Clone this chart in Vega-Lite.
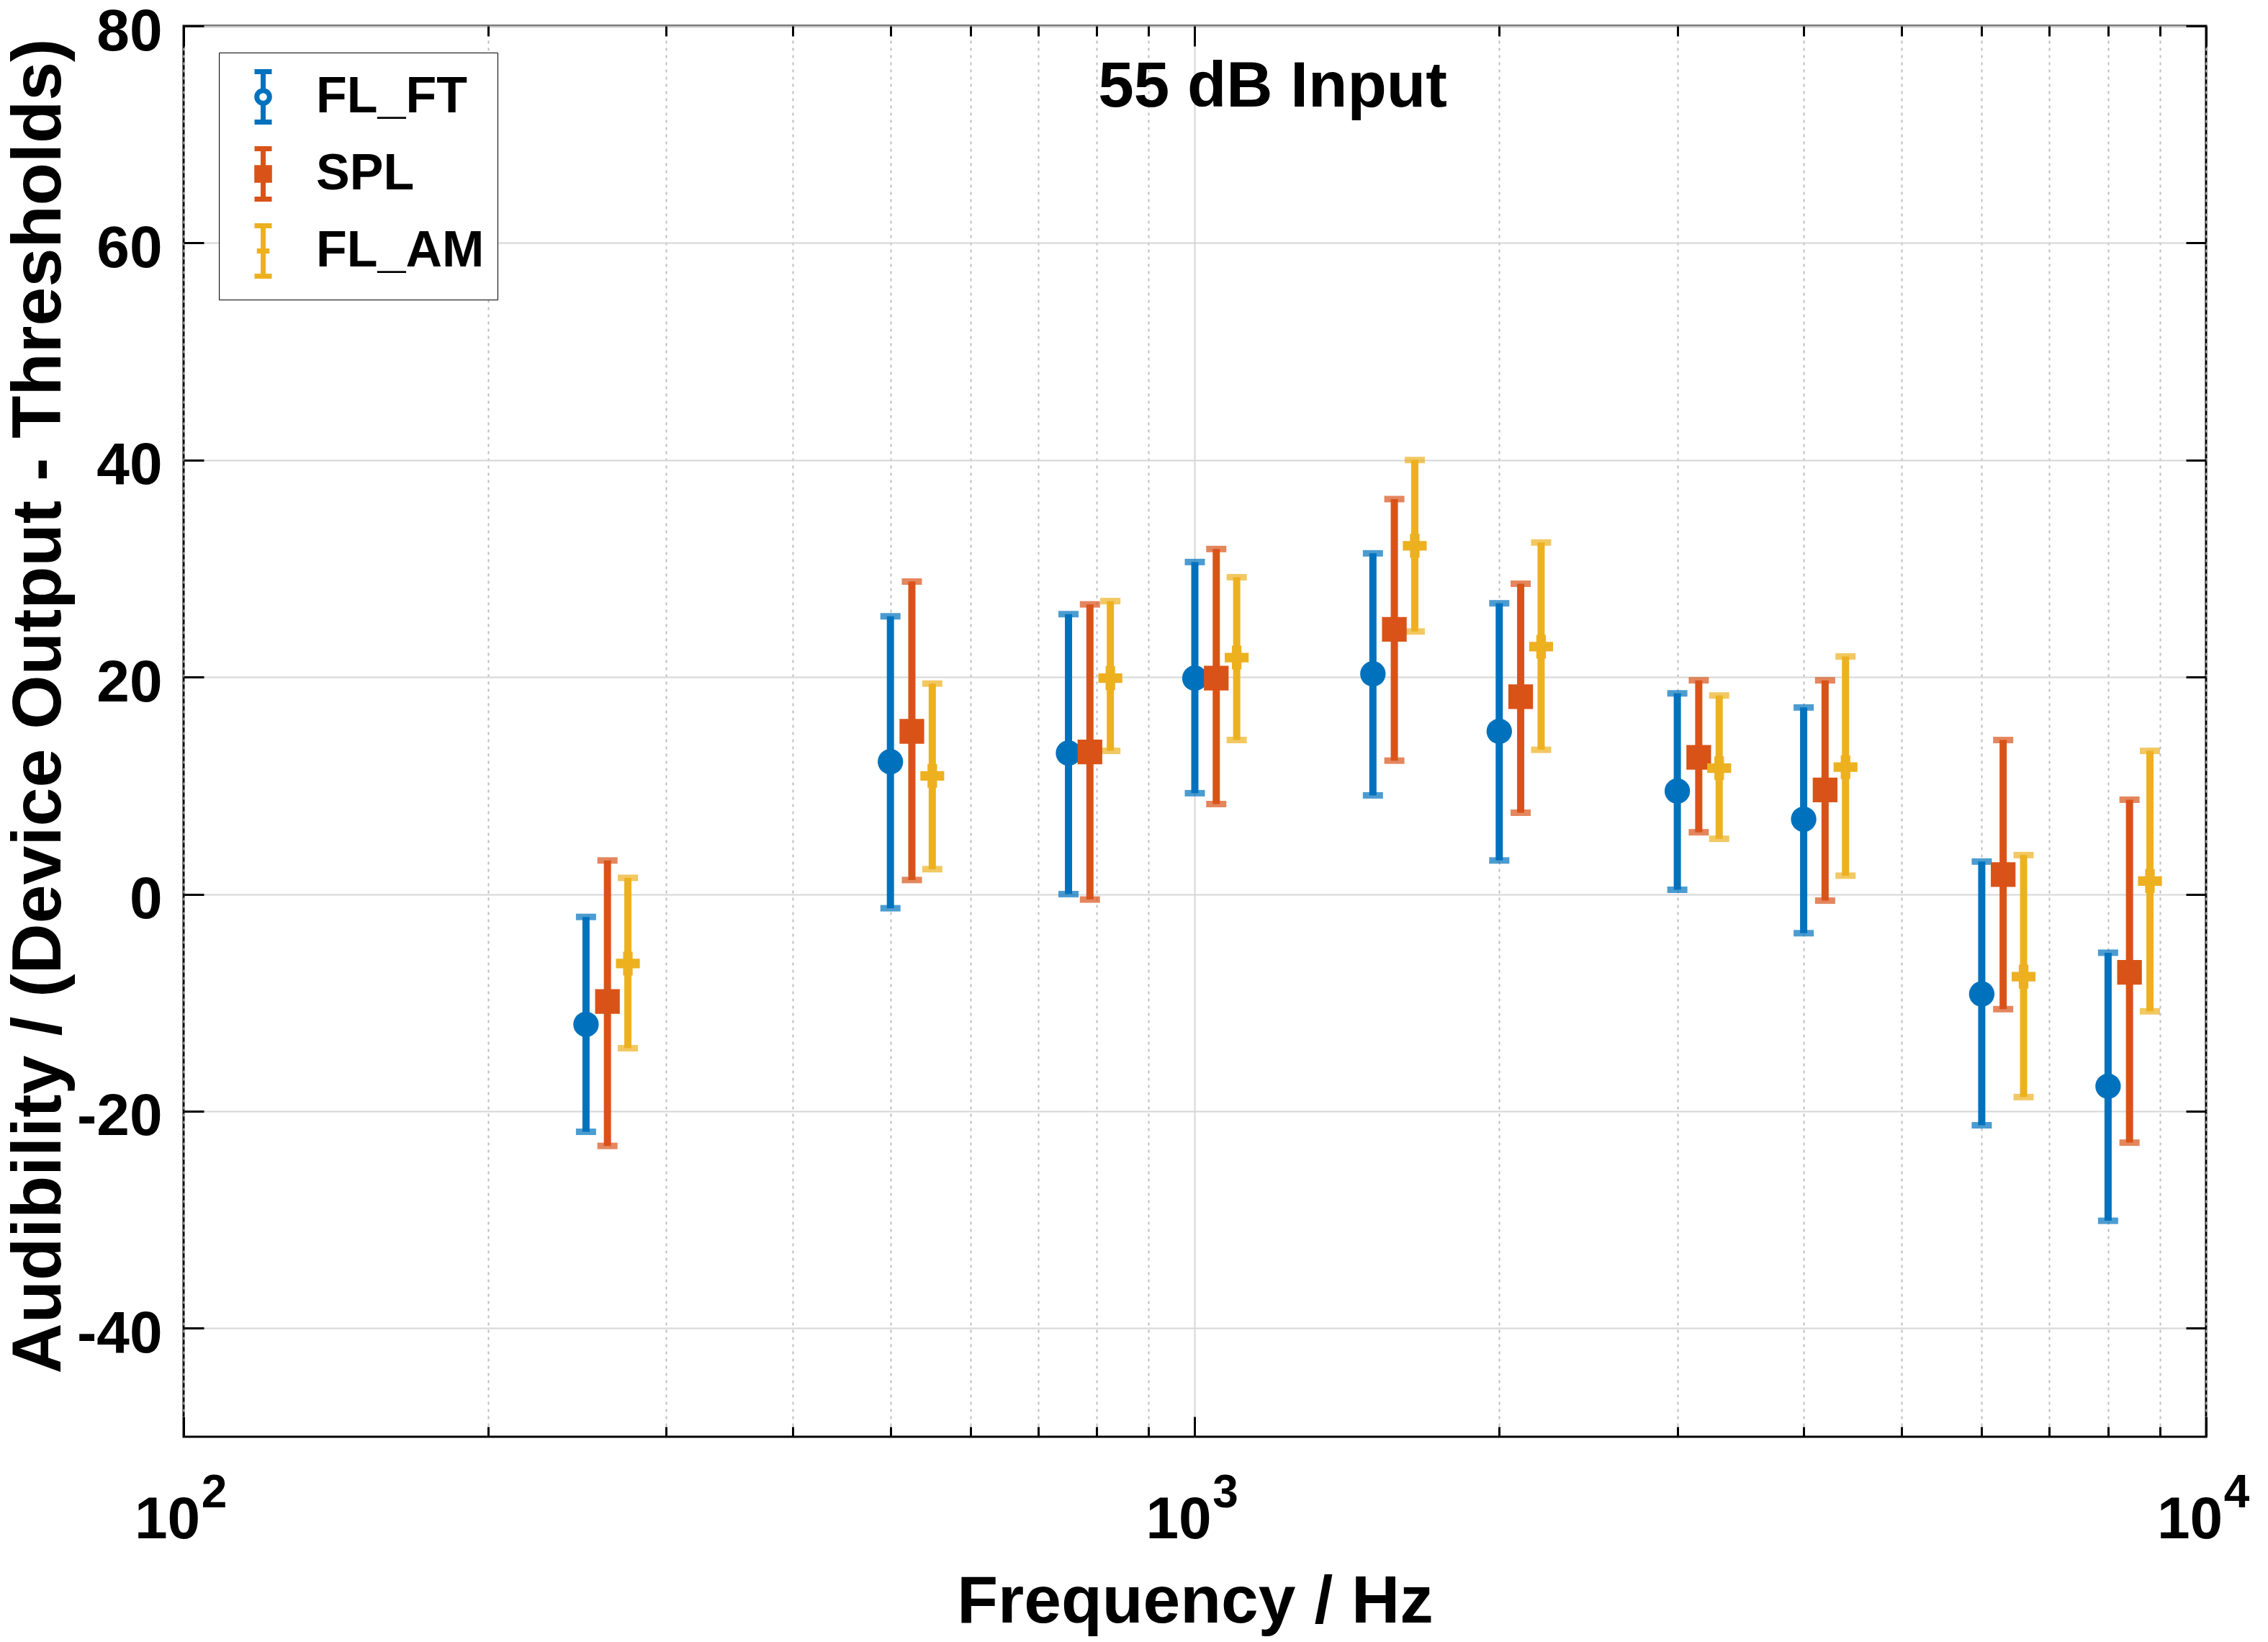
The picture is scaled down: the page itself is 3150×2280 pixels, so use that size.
{
  "$schema": "https://vega.github.io/schema/vega-lite/v6.json",
  "width": 2809,
  "height": 1959,
  "autosize": "none",
  "padding": {"left": 255, "top": 36, "right": 86, "bottom": 285},
  "background": "white",
  "view": {"stroke": "black", "strokeWidth": 3},
  "config": {"font": "Liberation Sans"},
  "title": {
    "text": "55 dB Input",
    "font": "Liberation Sans",
    "fontSize": 89,
    "fontWeight": "bold",
    "color": "black",
    "anchor": "middle",
    "frame": "group",
    "baseline": "alphabetic",
    "offset": 0,
    "dx": 108,
    "dy": 234
  },
  "data": {
    "values": [
      {"series": "FL_FT", "freq": 250, "mean": -12.0, "lo": -21.9, "hi": -2.1},
      {"series": "FL_FT", "freq": 500, "mean": 12.2, "lo": -1.3, "hi": 25.6},
      {"series": "FL_FT", "freq": 750, "mean": 13.0, "lo": 0.0, "hi": 25.8},
      {"series": "FL_FT", "freq": 1000, "mean": 19.9, "lo": 9.3, "hi": 30.6},
      {"series": "FL_FT", "freq": 1500, "mean": 20.3, "lo": 9.1, "hi": 31.4},
      {"series": "FL_FT", "freq": 2000, "mean": 15.0, "lo": 3.1, "hi": 26.8},
      {"series": "FL_FT", "freq": 3000, "mean": 9.5, "lo": 0.4, "hi": 18.5},
      {"series": "FL_FT", "freq": 4000, "mean": 6.9, "lo": -3.6, "hi": 17.2},
      {"series": "FL_FT", "freq": 6000, "mean": -9.2, "lo": -21.3, "hi": 3.0},
      {"series": "FL_FT", "freq": 8000, "mean": -17.7, "lo": -30.1, "hi": -5.4},
      {"series": "SPL", "freq": 262.5, "mean": -9.9, "lo": -23.2, "hi": 3.1},
      {"series": "SPL", "freq": 525, "mean": 15.0, "lo": 1.3, "hi": 28.8},
      {"series": "SPL", "freq": 787.5, "mean": 13.1, "lo": -0.5, "hi": 26.7},
      {"series": "SPL", "freq": 1050, "mean": 19.9, "lo": 8.3, "hi": 31.8},
      {"series": "SPL", "freq": 1575, "mean": 24.4, "lo": 12.3, "hi": 36.4},
      {"series": "SPL", "freq": 2100, "mean": 18.2, "lo": 7.5, "hi": 28.6},
      {"series": "SPL", "freq": 3150, "mean": 12.6, "lo": 5.7, "hi": 19.7},
      {"series": "SPL", "freq": 4200, "mean": 9.6, "lo": -0.6, "hi": 19.7},
      {"series": "SPL", "freq": 6300, "mean": 1.8, "lo": -10.6, "hi": 14.2},
      {"series": "SPL", "freq": 8400, "mean": -7.2, "lo": -22.9, "hi": 8.7},
      {"series": "FL_AM", "freq": 275, "mean": -6.4, "lo": -14.2, "hi": 1.5},
      {"series": "FL_AM", "freq": 550, "mean": 10.9, "lo": 2.3, "hi": 19.4},
      {"series": "FL_AM", "freq": 825, "mean": 19.9, "lo": 13.2, "hi": 27.0},
      {"series": "FL_AM", "freq": 1100, "mean": 21.8, "lo": 14.2, "hi": 29.2},
      {"series": "FL_AM", "freq": 1650, "mean": 32.1, "lo": 24.2, "hi": 40.0},
      {"series": "FL_AM", "freq": 2200, "mean": 22.8, "lo": 13.3, "hi": 32.4},
      {"series": "FL_AM", "freq": 3300, "mean": 11.6, "lo": 5.1, "hi": 18.3},
      {"series": "FL_AM", "freq": 4400, "mean": 11.7, "lo": 1.7, "hi": 21.9},
      {"series": "FL_AM", "freq": 6600, "mean": -7.6, "lo": -18.7, "hi": 3.6},
      {"series": "FL_AM", "freq": 8800, "mean": 1.2, "lo": -10.8, "hi": 13.2}
    ]
  },
  "resolve": {
    "axis": {"x": "independent", "y": "independent"},
    "scale": {"shape": "independent", "color": "independent"}
  },
  "layer": [
    {
      "transform": [{"filter": "datum.series == 'legend only'"}],
      "mark": {"type": "point", "filled": false, "strokeWidth": 7, "opacity": 1},
      "encoding": {
        "x": {"field": "freq", "type": "quantitative", "axis": null},
        "y": {"field": "mean", "type": "quantitative", "axis": null},
        "shape": {
          "field": "series",
          "type": "nominal",
          "scale": {
            "domain": ["FL_FT", "SPL", "FL_AM"],
            "range": [
              "M-0.3,-0.875H0.3M0,-0.875V-0.22M0,0.22V0.875M-0.3,0.875H0.3M0.22,0A0.22,0.22 0 1,1 -0.22,0A0.22,0.22 0 1,1 0.22,0",
              "M-0.3,-0.875H0.3M0,-0.875V0.875M-0.3,0.875H0.3M-0.22,-0.22H0.22V0.22H-0.22ZM-0.22,-0.08H0.22M-0.22,0.08H0.22",
              "M-0.3,-0.875H0.3M0,-0.875V0.875M-0.3,0.875H0.3M-0.22,0H0.22"
            ]
          },
          "legend": {
            "title": null,
            "orient": "none",
            "legendX": 49,
            "legendY": 37,
            "padding": 18,
            "rowPadding": 8,
            "fillColor": "white",
            "strokeColor": "black",
            "symbolSize": 6400,
            "symbolStrokeWidth": 7,
            "symbolOpacity": 1,
            "labelOffset": 30,
            "labelLimit": 0,
            "labelFont": "Liberation Sans",
            "labelFontSize": 70,
            "labelFontWeight": "bold",
            "labelColor": "black"
          }
        },
        "color": {
          "field": "series",
          "type": "nominal",
          "scale": {"domain": ["FL_FT", "SPL", "FL_AM"], "range": ["#0072BD", "#D95319", "#EDB120"]},
          "legend": {
            "title": null,
            "orient": "none",
            "legendX": 49,
            "legendY": 37,
            "padding": 18,
            "rowPadding": 8,
            "fillColor": "white",
            "strokeColor": "black",
            "symbolSize": 6400,
            "symbolStrokeWidth": 7,
            "symbolOpacity": 1,
            "labelOffset": 30,
            "labelLimit": 0,
            "labelFont": "Liberation Sans",
            "labelFontSize": 70,
            "labelFontWeight": "bold",
            "labelColor": "black"
          }
        }
      }
    },
    {
      "mark": {"type": "rule", "strokeWidth": 10},
      "encoding": {
        "x": {
          "field": "freq",
          "type": "quantitative",
          "scale": {"type": "log", "domain": [100, 10000], "nice": false},
          "axis": {
            "orient": "bottom",
            "values": [100, 200, 300, 400, 500, 600, 700, 800, 900, 1000, 2000, 3000, 4000, 5000, 6000, 7000, 8000, 9000, 10000],
            "labelExpr": "datum.value == 100 || datum.value == 1000 || datum.value == 10000 ? '10' : ''",
            "domain": false,
            "grid": true,
            "gridColor": {"condition": {"test": "datum.value == 1000", "value": "#d6d6d6"}, "value": "#bdbdbd"},
            "gridDash": {"condition": {"test": "datum.value == 1000", "value": []}, "value": [4, 6]},
            "gridWidth": 2,
            "ticks": true,
            "tickColor": "black",
            "tickWidth": 3,
            "tickSize": {"condition": {"test": "datum.value == 100 || datum.value == 1000 || datum.value == 10000", "value": -28}, "value": -14},
            "labelPadding": 168,
            "labelBaseline": "alphabetic",
            "labelAlign": "center",
            "labelOffset": -23,
            "labelFont": "Liberation Sans",
            "labelFontSize": 82,
            "labelFontWeight": "bold",
            "labelColor": "black",
            "labelFlush": false,
            "labelOverlap": false,
            "title": "Frequency / Hz",
            "titleFont": "Liberation Sans",
            "titleFontSize": 93,
            "titleFontWeight": "bold",
            "titleColor": "black",
            "titleBaseline": "alphabetic",
            "titleY": 257
          }
        },
        "y": {
          "field": "lo",
          "type": "quantitative",
          "scale": {"domain": [-50, 80], "nice": false, "zero": false},
          "axis": {
            "orient": "left",
            "values": [-40, -20, 0, 20, 40, 60, 80],
            "labelExpr": "datum.value + ''",
            "domain": false,
            "grid": true,
            "gridColor": "#d6d6d6",
            "gridWidth": 2,
            "tickColor": "black",
            "tickWidth": 3,
            "tickSize": -28,
            "labelPadding": 58,
            "labelOffset": 8,
            "labelFont": "Liberation Sans",
            "labelFontSize": 82,
            "labelFontWeight": "bold",
            "labelColor": "black",
            "labelFlush": false,
            "title": "Audibility / (Device Output - Thresholds)",
            "titleFont": "Liberation Sans",
            "titleFontSize": 97,
            "titleFontWeight": "bold",
            "titleColor": "black",
            "titleAngle": 270,
            "titleBaseline": "alphabetic",
            "titleAlign": "center",
            "titleX": -172,
            "titleY": 944
          }
        },
        "y2": {"field": "hi"},
        "color": {
          "field": "series",
          "type": "nominal",
          "scale": {"domain": ["FL_FT", "SPL", "FL_AM"], "range": ["#0072BD", "#D95319", "#EDB120"]},
          "legend": null
        }
      }
    },
    {
      "mark": {"type": "tick", "orient": "horizontal", "size": 28, "thickness": 9},
      "encoding": {
        "x": {"field": "freq", "type": "quantitative", "axis": null},
        "y": {"field": "lo", "type": "quantitative", "axis": null},
        "color": {
          "field": "series",
          "type": "nominal",
          "scale": {"domain": ["FL_FT", "SPL", "FL_AM"], "range": ["#0072BD", "#D95319", "#EDB120"]},
          "legend": null
        }
      }
    },
    {
      "mark": {"type": "tick", "orient": "horizontal", "size": 28, "thickness": 9},
      "encoding": {
        "x": {"field": "freq", "type": "quantitative", "axis": null},
        "y": {"field": "hi", "type": "quantitative", "axis": null},
        "color": {
          "field": "series",
          "type": "nominal",
          "scale": {"domain": ["FL_FT", "SPL", "FL_AM"], "range": ["#0072BD", "#D95319", "#EDB120"]},
          "legend": null
        }
      }
    },
    {
      "mark": {"type": "point", "filled": true, "opacity": 1},
      "encoding": {
        "x": {"field": "freq", "type": "quantitative", "axis": null},
        "y": {"field": "mean", "type": "quantitative", "axis": null},
        "shape": {
          "field": "series",
          "type": "nominal",
          "scale": {"domain": ["FL_FT", "SPL", "FL_AM"], "range": ["circle", "square", "cross"]},
          "legend": null
        },
        "size": {
          "field": "series",
          "type": "ordinal",
          "scale": {"domain": ["FL_FT", "SPL", "FL_AM"], "range": [1250, 1100, 640]},
          "legend": null
        },
        "color": {
          "field": "series",
          "type": "nominal",
          "scale": {"domain": ["FL_FT", "SPL", "FL_AM"], "range": ["#0072BD", "#D95319", "#EDB120"]},
          "legend": null
        }
      }
    },
    {
      "mark": {"type": "rule", "opacity": 0},
      "encoding": {
        "x": {
          "field": "freq",
          "type": "quantitative",
          "axis": {
            "orient": "top",
            "values": [100, 200, 300, 400, 500, 600, 700, 800, 900, 1000, 2000, 3000, 4000, 5000, 6000, 7000, 8000, 9000, 10000],
            "labels": false,
            "domain": false,
            "grid": false,
            "tickColor": "black",
            "tickWidth": 3,
            "tickSize": {"condition": {"test": "datum.value == 100 || datum.value == 1000 || datum.value == 10000", "value": -28}, "value": -14},
            "title": null
          }
        },
        "y": {
          "field": "lo",
          "type": "quantitative",
          "axis": {
            "orient": "right",
            "values": [-40, -20, 0, 20, 40, 60, 80],
            "labels": false,
            "domain": false,
            "grid": false,
            "tickColor": "black",
            "tickWidth": 3,
            "tickSize": -28,
            "title": null
          }
        },
        "y2": {"field": "hi"}
      }
    },
    {
      "mark": {"type": "rule", "opacity": 0},
      "encoding": {
        "x": {
          "field": "freq",
          "type": "quantitative",
          "axis": {
            "orient": "bottom",
            "values": [100, 1000, 10000],
            "labelExpr": "datum.value == 100 ? '2' : datum.value == 1000 ? '3' : '4'",
            "domain": false,
            "grid": false,
            "ticks": false,
            "labelPadding": 97,
            "labelBaseline": "alphabetic",
            "labelAlign": "center",
            "labelOffset": 42,
            "labelFont": "Liberation Sans",
            "labelFontSize": 64,
            "labelFontWeight": "bold",
            "labelColor": "black",
            "labelFlush": false,
            "labelOverlap": false,
            "title": null
          }
        },
        "y": {"field": "lo", "type": "quantitative", "axis": null},
        "y2": {"field": "hi"}
      }
    }
  ]
}
